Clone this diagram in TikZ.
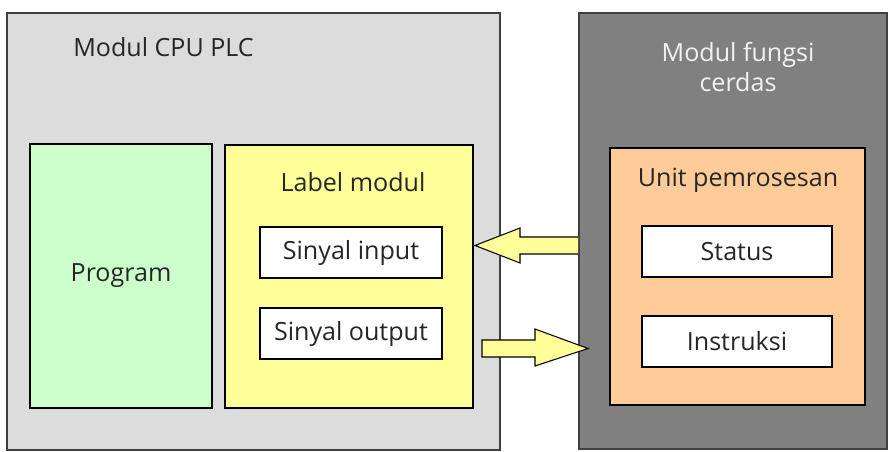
\documentclass[tikz,border=0pt]{standalone}
\usepackage{fontspec}
\setmainfont{Open Sans}
\usetikzlibrary{positioning}

\definecolor{cpugray}{HTML}{DCDCDC}
\definecolor{smartgray}{HTML}{808080}
\definecolor{proggreen}{HTML}{CCFFCC}
\definecolor{labelyellow}{HTML}{FFFF99}
\definecolor{unitorange}{HTML}{FFCC99}
\definecolor{textdark}{HTML}{262626}

\begin{document}
\begin{tikzpicture}[
    x=0.75pt, y=-0.75pt,
    every node/.style={font=\fontsize{18.8}{22.5}\selectfont, text=textdark},
    module/.style={draw=black!75, line width=0.8pt, inner sep=0pt},
    block/.style={draw=black, line width=2.2pt, inner sep=0pt},
    signal/.style={draw=black, line width=2.2pt, fill=white, inner sep=0pt,
        minimum width=182*0.75pt, minimum height=51*0.75pt},
    blockarrow/.style={draw=black, line width=0.8pt, fill=labelyellow, line join=miter}
]
    \useasboundingbox (0,0) rectangle (888,452);

    % Modules
    \draw[module, fill=cpugray] (7,13) rectangle (500,450);
    \draw[module, fill=smartgray] (579,13) rectangle (887,449);
    \node[anchor=west, inner sep=0pt] (cputitle) at (73,47) {Modul CPU PLC};
    \node[align=center, text=white!95!black] (smarttitle) at (738,67) {Modul fungsi\\cerdas};

    % Program and label module
    \node[block, fill=proggreen, minimum width=182*0.75pt, minimum height=264*0.75pt]
        (program) at (121,276) {Program};
    \node[block, fill=labelyellow, minimum width=248*0.75pt, minimum height=263*0.75pt]
        (label) at (349,276.5) {};
    \node (labeltitle) at (353,182) {Label modul};
    \node[signal] (sigin) at (351,252.5) {Sinyal input};
    \node[signal] (sigout) at (351,333.5) {Sinyal output};

    % Processing unit
    \node[block, fill=unitorange, minimum width=255*0.75pt, minimum height=257*0.75pt]
        (unit) at (737.5,276.5) {};
    \node (unittitle) at (738,180) {Unit pemrosesan};
    \node[signal, minimum width=190*0.75pt] (status) at (737,251.5) {Status};
    \node[signal, minimum width=190*0.75pt] (instr) at (737,341.5) {Instruksi};

    % Block arrows
    \draw[blockarrow] (578,237) -- (520,237) -- (520,228) -- (475,245.5)
        -- (520,263) -- (520,254) -- (578,254);
    \draw[blockarrow] (482,340) -- (535,340) -- (535,329) -- (588,348.5)
        -- (535,366) -- (535,357) -- (482,357) -- cycle;
\end{tikzpicture}
\end{document}
